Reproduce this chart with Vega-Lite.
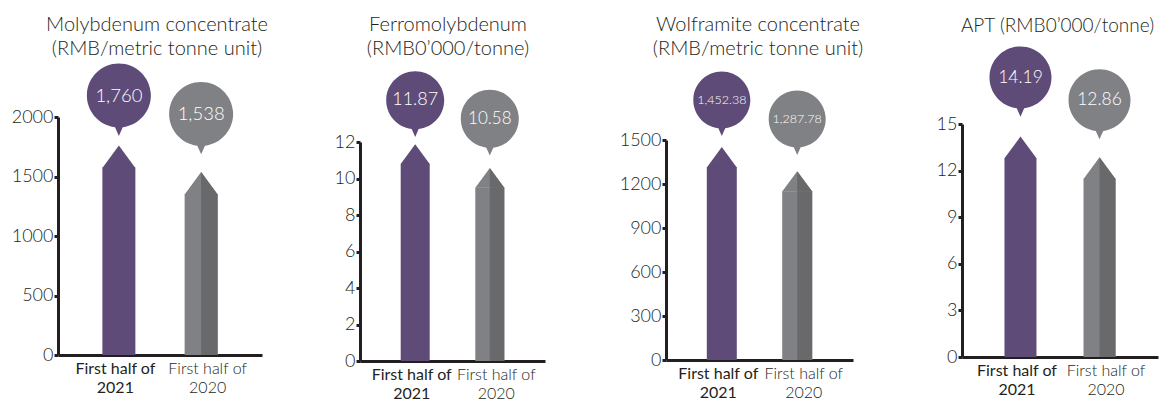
{
  "$schema": "https://vega.github.io/schema/vega-lite/v6.json",
  "padding": {"left": 11, "top": 15, "right": 0, "bottom": 0},
  "background": "white",
  "datasets": {
    "mo": [{"p": "2021", "v": 1760}, {"p": "2020", "v": 1538}],
    "fe": [{"p": "2021", "v": 11.87}, {"p": "2020", "v": 10.58}],
    "wo": [{"p": "2021", "v": 1452.38}, {"p": "2020", "v": 1287.78}],
    "apt": [{"p": "2021", "v": 14.19}, {"p": "2020", "v": 12.86}]
  },
  "spacing": 0,
  "bounds": "flush",
  "hconcat": [
    {
      "width": 302, "height": 295,
      "title": {"text": ["Molybdenum concentrate", "(RMB/metric tonne unit)"], "offset": 1, "dx": -52},
      "data": {"name": "mo"},
      "encoding": {
        "x": {"field": "p", "type": "nominal", "sort": ["2021", "2020"], "title": null,
              "scale": {"type": "point", "padding": 0.74, "range": [0, 204]},
              "axis": {"labelExpr": "['First half of', datum.value]",
                       "labelOffset": {"condition": {"test": "datum.value === '2021'", "value": -4}, "value": 6},
                       "labelFontWeight": {"condition": {"test": "datum.value === '2021'", "value": 400}, "value": 300}}},
        "y": {"field": "v", "type": "quantitative", "title": null,
              "scale": {"domain": [0, 2000], "range": [295, 57]},
              "axis": {"values": [0, 500, 1000, 1500, 2000], "format": "d"}}
      },
      "layer": [
        {"mark": {"type": "bar", "width": 33, "yOffset": 22, "y2Offset": 0},
         "encoding": {"y2": {"datum": 0}, "color": {"field": "p", "type": "nominal", "scale": {"domain": ["2021", "2020"], "range": ["#5e4b78", "#808185"]}, "legend": null}}},
        {"mark": {"type": "point", "shape": "M0,0L1,1.36L-1,1.36Z", "size": 1089, "filled": true, "opacity": 1},
         "encoding": {"color": {"field": "p", "type": "nominal", "scale": {"domain": ["2021", "2020"], "range": ["#5e4b78", "#808185"]}, "legend": null}}},
        {"transform": [{"filter": "datum.p === '2020'"}],
         "mark": {"type": "bar", "width": 16.5, "xOffset": 8.25, "yOffset": 22, "y2Offset": 0, "color": "#69696b"},
         "encoding": {"y2": {"datum": 0}}},
        {"transform": [{"filter": "datum.p === '2020'"}],
         "mark": {"type": "point", "shape": "M0,0L1,1.36L0,1.36Z", "size": 1089, "filled": true, "opacity": 1, "color": "#69696b"}},
        {"transform": [{"filter": "datum.p === '2021'"}],
         "mark": {"type": "point", "shape": "M-0.12,0.99A1,1 0 1,1 0.12,0.99L0,1.26Z", "size": 4096, "filled": true, "opacity": 1, "color": "#5e4b78", "yOffset": -50}},
        {"transform": [{"filter": "datum.p === '2020'"}],
         "mark": {"type": "point", "shape": "M-0.12,0.99A1,1 0 1,1 0.12,0.99L0,1.26Z", "size": 4096, "filled": true, "opacity": 1, "color": "#808185", "yOffset": -58}},
        {"transform": [{"filter": "datum.p === '2021'"}],
         "mark": {"type": "text", "color": "white", "fontSize": 18.5, "fontWeight": 300, "align": "center", "baseline": "middle", "yOffset": -50},
         "encoding": {"text": {"field": "v", "type": "quantitative", "format": ",d"}}},
        {"transform": [{"filter": "datum.p === '2020'"}],
         "mark": {"type": "text", "color": "white", "fontSize": 18.5, "fontWeight": 300, "align": "center", "baseline": "middle", "yOffset": -58},
         "encoding": {"text": {"field": "v", "type": "quantitative", "format": ",d"}}}
      ]
    },
    {
      "width": 306, "height": 301,
      "title": {"text": ["Ferromolybdenum", "(RMB0’000/tonne)"], "offset": 1, "dx": -65},
      "data": {"name": "fe"},
      "encoding": {
        "x": {"field": "p", "type": "nominal", "sort": ["2021", "2020"], "title": null,
              "scale": {"type": "point", "padding": 0.74, "range": [0, 185]},
              "axis": {"labelExpr": "['First half of', datum.value]",
                       "labelOffset": {"condition": {"test": "datum.value === '2021'", "value": -4}, "value": 6},
                       "labelFontWeight": {"condition": {"test": "datum.value === '2021'", "value": 400}, "value": 300}}},
        "y": {"field": "v", "type": "quantitative", "title": null,
              "scale": {"domain": [0, 12], "range": [301, 82]},
              "axis": {"values": [0, 2, 4, 6, 8, 10, 12], "format": "d"}}
      },
      "layer": [
        {"mark": {"type": "bar", "width": 29, "yOffset": 19.5, "y2Offset": 0},
         "encoding": {"y2": {"datum": 0}, "color": {"field": "p", "type": "nominal", "scale": {"domain": ["2021", "2020"], "range": ["#5e4b78", "#808185"]}, "legend": null}}},
        {"mark": {"type": "point", "shape": "M0,0L1,1.36L-1,1.36Z", "size": 841, "filled": true, "opacity": 1},
         "encoding": {"color": {"field": "p", "type": "nominal", "scale": {"domain": ["2021", "2020"], "range": ["#5e4b78", "#808185"]}, "legend": null}}},
        {"transform": [{"filter": "datum.p === '2020'"}],
         "mark": {"type": "bar", "width": 14.5, "xOffset": 7.25, "yOffset": 19.5, "y2Offset": 0, "color": "#69696b"},
         "encoding": {"y2": {"datum": 0}}},
        {"transform": [{"filter": "datum.p === '2020'"}],
         "mark": {"type": "point", "shape": "M0,0L1,1.36L0,1.36Z", "size": 841, "filled": true, "opacity": 1, "color": "#69696b"}},
        {"transform": [{"filter": "datum.p === '2021'"}],
         "mark": {"type": "point", "shape": "M-0.12,0.99A1,1 0 1,1 0.12,0.99L0,1.26Z", "size": 3364, "filled": true, "opacity": 1, "color": "#5e4b78", "yOffset": -44}},
        {"transform": [{"filter": "datum.p === '2020'"}],
         "mark": {"type": "point", "shape": "M-0.12,0.99A1,1 0 1,1 0.12,0.99L0,1.26Z", "size": 3364, "filled": true, "opacity": 1, "color": "#808185", "yOffset": -49}},
        {"transform": [{"filter": "datum.p === '2021'"}],
         "mark": {"type": "text", "color": "white", "fontSize": 18, "fontWeight": 300, "align": "center", "baseline": "middle", "yOffset": -44},
         "encoding": {"text": {"field": "v", "type": "quantitative", "format": ".2f"}}},
        {"transform": [{"filter": "datum.p === '2020'"}],
         "mark": {"type": "text", "color": "white", "fontSize": 17, "fontWeight": 300, "align": "center", "baseline": "middle", "yOffset": -49},
         "encoding": {"text": {"field": "v", "type": "quantitative", "format": ".2f"}}}
      ]
    },
    {
      "width": 296, "height": 300,
      "title": {"text": ["Wolframite concentrate", "(RMB/metric tonne unit)"], "offset": 1, "dx": -56},
      "data": {"name": "wo"},
      "encoding": {
        "x": {"field": "p", "type": "nominal", "sort": ["2021", "2020"], "title": null,
              "scale": {"type": "point", "padding": 0.74, "range": [0, 187]},
              "axis": {"labelExpr": "['First half of', datum.value]",
                       "labelOffset": {"condition": {"test": "datum.value === '2021'", "value": -4}, "value": 6},
                       "labelFontWeight": {"condition": {"test": "datum.value === '2021'", "value": 400}, "value": 300}}},
        "y": {"field": "v", "type": "quantitative", "title": null,
              "scale": {"domain": [0, 1500], "range": [300, 80]},
              "axis": {"values": [0, 300, 600, 900, 1200, 1500], "format": "d"}}
      },
      "layer": [
        {"mark": {"type": "bar", "width": 30, "yOffset": 20, "y2Offset": 0},
         "encoding": {"y2": {"datum": 0}, "color": {"field": "p", "type": "nominal", "scale": {"domain": ["2021", "2020"], "range": ["#5e4b78", "#808185"]}, "legend": null}}},
        {"mark": {"type": "point", "shape": "M0,0L1,1.36L-1,1.36Z", "size": 900, "filled": true, "opacity": 1},
         "encoding": {"color": {"field": "p", "type": "nominal", "scale": {"domain": ["2021", "2020"], "range": ["#5e4b78", "#808185"]}, "legend": null}}},
        {"transform": [{"filter": "datum.p === '2020'"}],
         "mark": {"type": "bar", "width": 15, "xOffset": 7.5, "yOffset": 20, "y2Offset": 0, "color": "#69696b"},
         "encoding": {"y2": {"datum": 0}}},
        {"transform": [{"filter": "datum.p === '2020'"}],
         "mark": {"type": "point", "shape": "M0,0L1,1.36L0,1.36Z", "size": 900, "filled": true, "opacity": 1, "color": "#69696b"}},
        {"transform": [{"filter": "datum.p === '2021'"}],
         "mark": {"type": "point", "shape": "M-0.12,0.99A1,1 0 1,1 0.12,0.99L0,1.26Z", "size": 3249, "filled": true, "opacity": 1, "color": "#5e4b78", "yOffset": -47}},
        {"transform": [{"filter": "datum.p === '2020'"}],
         "mark": {"type": "point", "shape": "M-0.12,0.99A1,1 0 1,1 0.12,0.99L0,1.26Z", "size": 3249, "filled": true, "opacity": 1, "color": "#808185", "yOffset": -52}},
        {"transform": [{"filter": "datum.p === '2021'"}],
         "mark": {"type": "text", "color": "white", "fontSize": 12.5, "fontWeight": 300, "align": "center", "baseline": "middle", "yOffset": -47},
         "encoding": {"text": {"field": "v", "type": "quantitative", "format": ",.2f"}}},
        {"transform": [{"filter": "datum.p === '2020'"}],
         "mark": {"type": "text", "color": "white", "fontSize": 12.5, "fontWeight": 300, "align": "center", "baseline": "middle", "yOffset": -52},
         "encoding": {"text": {"field": "v", "type": "quantitative", "format": ",.2f"}}}
      ]
    },
    {
      "width": 197, "height": 297,
      "title": {"text": "APT (RMB0’000/tonne)", "offset": 10, "dx": -3, "fontSize": 19},
      "data": {"name": "apt"},
      "encoding": {
        "x": {"field": "p", "type": "nominal", "sort": ["2021", "2020"], "title": null,
              "scale": {"type": "point", "padding": 0.74, "range": [0, 196]},
              "axis": {"labelExpr": "['First half of', datum.value]",
                       "labelOffset": {"condition": {"test": "datum.value === '2021'", "value": -4}, "value": 6},
                       "labelFontWeight": {"condition": {"test": "datum.value === '2021'", "value": 400}, "value": 300}}},
        "y": {"field": "v", "type": "quantitative", "title": null,
              "scale": {"domain": [0, 15], "range": [297, 64]},
              "axis": {"values": [0, 3, 6, 9, 12, 15], "format": "d"}}
      },
      "layer": [
        {"mark": {"type": "bar", "width": 32, "yOffset": 21.5, "y2Offset": 0},
         "encoding": {"y2": {"datum": 0}, "color": {"field": "p", "type": "nominal", "scale": {"domain": ["2021", "2020"], "range": ["#5e4b78", "#808185"]}, "legend": null}}},
        {"mark": {"type": "point", "shape": "M0,0L1,1.36L-1,1.36Z", "size": 1024, "filled": true, "opacity": 1},
         "encoding": {"color": {"field": "p", "type": "nominal", "scale": {"domain": ["2021", "2020"], "range": ["#5e4b78", "#808185"]}, "legend": null}}},
        {"transform": [{"filter": "datum.p === '2020'"}],
         "mark": {"type": "bar", "width": 16, "xOffset": 8, "yOffset": 21.5, "y2Offset": 0, "color": "#69696b"},
         "encoding": {"y2": {"datum": 0}}},
        {"transform": [{"filter": "datum.p === '2020'"}],
         "mark": {"type": "point", "shape": "M0,0L1,1.36L0,1.36Z", "size": 1024, "filled": true, "opacity": 1, "color": "#69696b"}},
        {"transform": [{"filter": "datum.p === '2021'"}],
         "mark": {"type": "point", "shape": "M-0.12,0.99A1,1 0 1,1 0.12,0.99L0,1.26Z", "size": 3844, "filled": true, "opacity": 1, "color": "#5e4b78", "yOffset": -59}},
        {"transform": [{"filter": "datum.p === '2020'"}],
         "mark": {"type": "point", "shape": "M-0.12,0.99A1,1 0 1,1 0.12,0.99L0,1.26Z", "size": 3844, "filled": true, "opacity": 1, "color": "#808185", "yOffset": -57}},
        {"transform": [{"filter": "datum.p === '2021'"}],
         "mark": {"type": "text", "color": "white", "fontSize": 17.5, "fontWeight": 300, "align": "center", "baseline": "middle", "yOffset": -59},
         "encoding": {"text": {"field": "v", "type": "quantitative", "format": ".2f"}}},
        {"transform": [{"filter": "datum.p === '2020'"}],
         "mark": {"type": "text", "color": "white", "fontSize": 17.5, "fontWeight": 300, "align": "center", "baseline": "middle", "yOffset": -57},
         "encoding": {"text": {"field": "v", "type": "quantitative", "format": ".2f"}}}
      ]
    }
  ],
  "config": {
    "view": {"stroke": null},
    "font": "Lato",
    "text": {"font": "Lato"},
    "axis": {"domainColor": "#231f20", "domainWidth": 3, "grid": false, "labelFont": "Lato", "labelFontSize": 18, "labelFontWeight": 300, "labelColor": "#231f20", "tickColor": "#231f20", "tickWidth": 3, "tickSize": 4},
    "axisY": {"labelPadding": 1},
    "axisX": {"ticks": false, "labelAngle": 0, "labelPadding": 5, "labelFontSize": 16, "labelLineHeight": 19},
    "title": {"font": "Lato", "fontSize": 20, "fontWeight": 300, "color": "#231f20", "lineHeight": 24, "anchor": "middle"}
  }
}
